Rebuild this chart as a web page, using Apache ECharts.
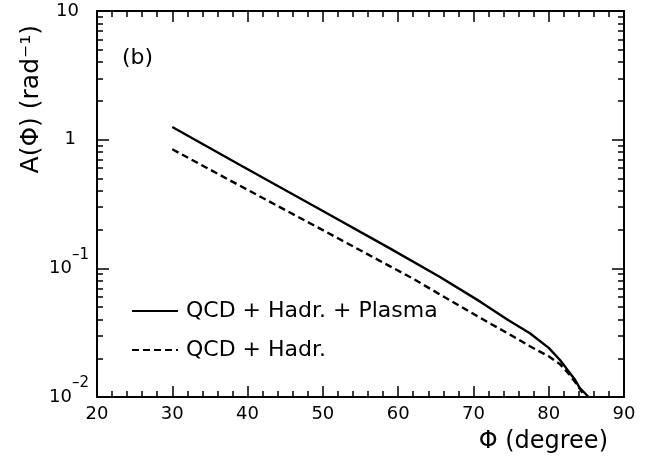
<!DOCTYPE html>
<html>
<head>
<meta charset="utf-8">
<script src="https://cdn.jsdelivr.net/npm/echarts@6/dist/echarts.min.js"></script>
<style>
html,body{margin:0;padding:0;background:#fff;}
#c{width:653px;height:460px;}
</style>
</head>
<body>
<div id="c"></div>
<script>
// ---- data ----
var solidX = [30, 39, 50, 58.9, 65.5, 70.9, 74.6, 77.5, 80, 81.5, 82.8, 83.5, 84.1, 85.3];
var solidY = [1.255, 0.636, 0.279, 0.143, 0.086, 0.0551, 0.0397, 0.0313, 0.0241, 0.0194, 0.0154, 0.0136, 0.0118, 0.0100];
var dashX  = [30, 39, 50, 61.8, 70.9, 75, 77.5, 80, 81.5, 82.8, 83.9, 84.8];
var dashY  = [0.842, 0.438, 0.198, 0.0842, 0.0412, 0.0302, 0.0248, 0.0207, 0.0180, 0.0148, 0.0122, 0.0100];
var seriesNames = ['QCD + Hadr. + Plasma', 'QCD + Hadr.'];
var yTickValues = [0.01, 0.1, 1, 10];
var yTickLabels = ['{b|10}{s|\u20132}', '{b|10}{s|\u20131}', '{p1|1}', '{p10|10}'];
var yMinorTicks = [];
[0.01, 0.1, 1].forEach(function (d) {
  for (var k = 2; k <= 9; k++) yMinorTicks.push(+(d * k).toPrecision(6));
});

function pairs(xs, ys) { return xs.map(function (x, i) { return [x, ys[i]]; }); }

var FONT = 'DejaVu Sans';
var black = '#000';

var chart = echarts.init(document.getElementById('c'), null, { renderer: 'canvas' });

function baseY(extra) {
  var o = {
    type: 'log', logBase: 10, min: 0.01, max: 10, gridIndex: 0,
    splitLine: { show: false },
    axisLine: { show: false },
    axisLabel: { show: false },
    axisTick: { show: false }
  };
  for (var k in extra) o[k] = extra[k];
  return o;
}

var option = {
  backgroundColor: '#fff',
  animation: false,
  title: {
    text: '(b)', left: 117, top: 42,
    textStyle: { fontFamily: FONT, fontSize: 22, fontWeight: 'normal', color: black }
  },
  legend: {
    orient: 'vertical', left: 126, top: 295,
    itemWidth: 46, itemHeight: 14, itemGap: 17,
    selectedMode: false,
    data: seriesNames,
    itemStyle: { opacity: 0, borderWidth: 0 },
    textStyle: { fontFamily: FONT, fontSize: 22, color: black, padding: [0, 0, 0, 3] }
  },
  grid: { left: 97, right: 29, top: 11, bottom: 63, containLabel: false },
  xAxis: [
    {
      type: 'value', min: 20, max: 90, interval: 10, position: 'bottom',
      name: '\u03A6 (degree)', nameLocation: 'end', nameGap: -16,
      nameTextStyle: { fontFamily: FONT, fontSize: 24, color: black, align: 'right', verticalAlign: 'top', padding: [33, 0, 0, 0] },
      axisLine: { show: true, onZero: false, lineStyle: { color: black, width: 2 } },
      axisTick: { show: true, inside: true, length: 11, lineStyle: { color: black, width: 1.5 } },
      minorTick: { show: true, splitNumber: 5, length: 6, lineStyle: { color: black, width: 1.5 } },
      axisLabel: { fontFamily: FONT, fontSize: 18, color: black, margin: 8 },
      splitLine: { show: false }
    },
    {
      type: 'value', min: 20, max: 90, interval: 10, position: 'top',
      axisLine: { show: true, onZero: false, lineStyle: { color: black, width: 2 } },
      axisTick: { show: true, inside: true, length: 11, lineStyle: { color: black, width: 1.5 } },
      minorTick: { show: true, splitNumber: 5, length: 6, lineStyle: { color: black, width: 1.5 } },
      axisLabel: { show: false },
      splitLine: { show: false }
    }
  ],
  yAxis: [
    baseY({
      position: 'left',
      name: 'A(\u03A6) (rad\u207B\u00B9)', nameLocation: 'end', nameRotate: 90, nameGap: -14,
      nameTextStyle: { fontFamily: FONT, fontSize: 25, color: black, align: 'right', verticalAlign: 'bottom', padding: [0, 0, 53, 0] },
      axisLine: { show: true, onZero: false, lineStyle: { color: black, width: 2 } },
      axisTick: { show: true, inside: true, length: 12, customValues: yTickValues, lineStyle: { color: black, width: 1.5 } },
      axisLabel: {
        show: true, margin: 8, color: black, fontFamily: FONT, fontSize: 18,
        customValues: yTickValues,
        formatter: function (v) {
          var e = Math.round(Math.log10(v));
          for (var i = 0; i < yTickValues.length; i++) {
            if (Math.round(Math.log10(yTickValues[i])) === e) return yTickLabels[i];
          }
          return '';
        },
        rich: {
          b: { fontFamily: FONT, fontSize: 18, lineHeight: 42, color: black },
          s: { fontFamily: FONT, fontSize: 15, lineHeight: 16, verticalAlign: 'top', color: black },
          p1: { fontFamily: FONT, fontSize: 18, color: black, padding: [0, 13, 0, 0] },
          p10: { fontFamily: FONT, fontSize: 18, color: black, padding: [0, 10, 0, 0] }
        }
      }
    }),
    baseY({
      position: 'left',
      axisTick: { show: true, inside: true, length: 6, customValues: yMinorTicks, lineStyle: { color: black, width: 1.5 } }
    }),
    baseY({
      position: 'right',
      axisLine: { show: true, onZero: false, lineStyle: { color: black, width: 2 } },
      axisTick: { show: true, inside: true, length: 12, customValues: yTickValues, lineStyle: { color: black, width: 1.5 } }
    }),
    baseY({
      position: 'right',
      axisTick: { show: true, inside: true, length: 6, customValues: yMinorTicks, lineStyle: { color: black, width: 1.5 } }
    })
  ],
  series: [
    {
      name: seriesNames[0], type: 'line', xAxisIndex: 0, yAxisIndex: 0,
      data: pairs(solidX, solidY), showSymbol: false, symbol: 'none',
      smooth: false,
      lineStyle: { color: black, width: 2.4, type: 'solid' },
      itemStyle: { color: black }
    },
    {
      name: seriesNames[1], type: 'line', xAxisIndex: 0, yAxisIndex: 0,
      data: pairs(dashX, dashY), showSymbol: false, symbol: 'none',
      smooth: false,
      lineStyle: { color: black, width: 2.4, type: [7, 4] },
      itemStyle: { color: black }
    }
  ]
};
chart.setOption(option);
</script>
</body>
</html>
